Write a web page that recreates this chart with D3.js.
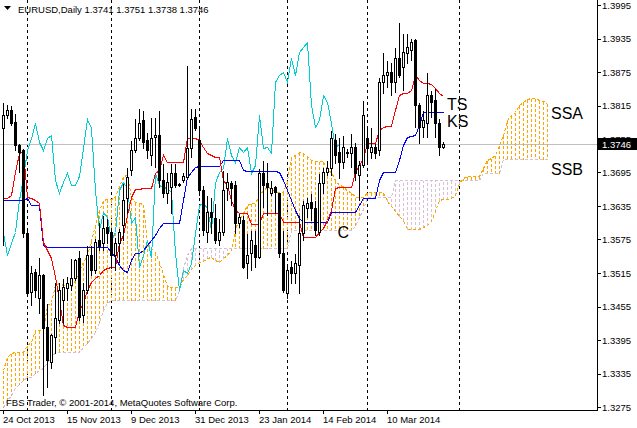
<!DOCTYPE html>
<html><head><meta charset="utf-8">
<script src="https://cdn.jsdelivr.net/npm/d3@7"></script>
<style>
html,body{margin:0;padding:0;background:#fff;}
svg{display:block;}
text{font-family:"Liberation Sans",Arial,sans-serif;}
</style>
</head><body>
<svg id="chart" width="637" height="428"></svg>
<script>
// ---------------- DATA ----------------
const headerText = "EURUSD,Daily 1.3741 1.3751 1.3738 1.3746";
const footerText = "FBS Trader, \u00A9 2001-2014, MetaQuotes Software Corp.";
const dateTickLabels = ["24 Oct 2013","15 Nov 2013","9 Dec 2013","31 Dec 2013","23 Jan 2014","14 Feb 2014","10 Mar 2014"];
const dateTickIndex = [0,16,32,48,64,80,96];
const separatorIndex = [6,27,49,71,91,114];
const priceTicks = [1.3995,1.3935,1.3875,1.3815,1.3755,1.3695,1.3635,1.3575,1.3515,1.3455,1.3395,1.3335,1.3275];
const lastPrice = 1.3746;
const chikouShift = 26;

const open = [
1.3775,1.3798,1.3807,1.3785,1.3744,1.3735,1.3587,1.3481,1.3517,1.3470,
1.3511,1.3418,1.3356,1.3400,1.3431,1.3467,1.3488,1.3494,1.3506,1.3542,
1.3440,1.3485,1.3547,1.3520,1.3574,1.3569,1.3597,1.3588,1.3547,1.3569,
1.3601,1.3649,1.3700,1.3735,1.3757,1.3789,1.3753,1.3726,1.3759,1.3762,
1.3682,1.3658,1.3669,1.3694,1.3675,1.3682,1.3687,1.3739,1.3794,1.3753,
1.3664,1.3588,1.3624,1.3614,1.3574,1.3588,1.3667,1.3676,1.3673,1.3605,
1.3610,1.3533,1.3551,1.3565,1.3544,1.3694,1.3676,1.3658,1.3669,1.3658,
1.3551,1.3479,1.3526,1.3515,1.3529,1.3587,1.3631,1.3642,1.3631,1.3588,
1.3676,1.3696,1.3703,1.3753,1.3732,1.3714,1.3730,1.3730,1.3741,1.3691,
1.3708,1.3757,1.3732,1.3741,1.3735,1.3857,1.3870,1.3875,1.3857,1.3900,
1.3884,1.3909,1.3914,1.3932,1.3816,1.3776,1.3784,1.3834,1.3825,1.3784,
1.3741];
const high = [
1.3821,1.3818,1.3816,1.3802,1.3748,1.3739,1.3592,1.3529,1.3524,1.3544,
1.3515,1.3461,1.3408,1.3499,1.3499,1.3506,1.3510,1.3542,1.3542,1.3556,
1.3499,1.3565,1.3565,1.3578,1.3606,1.3619,1.3614,1.3597,1.3580,1.3596,
1.3676,1.3705,1.3753,1.3793,1.3810,1.3807,1.3768,1.3794,1.3794,1.3807,
1.3712,1.3696,1.3712,1.3712,1.3678,1.3696,1.3888,1.3810,1.3810,1.3775,
1.3673,1.3655,1.3651,1.3640,1.3614,1.3700,1.3696,1.3682,1.3682,1.3622,
1.3619,1.3587,1.3592,1.3592,1.3703,1.3717,1.3714,1.3682,1.3673,1.3660,
1.3592,1.3533,1.3538,1.3551,1.3619,1.3646,1.3651,1.3658,1.3646,1.3694,
1.3705,1.3717,1.3771,1.3766,1.3759,1.3762,1.3739,1.3766,1.3750,1.3717,
1.3825,1.3775,1.3776,1.3748,1.3866,1.3911,1.3897,1.3893,1.3920,1.3965,
1.3945,1.3945,1.3936,1.3936,1.3821,1.3807,1.3875,1.3843,1.3846,1.3793,
1.3751];
const low = [
1.3565,1.3793,1.3780,1.3735,1.3696,1.3580,1.3474,1.3458,1.3472,1.3443,
1.3296,1.3311,1.3345,1.3372,1.3425,1.3425,1.3467,1.3485,1.3503,1.3431,
1.3427,1.3479,1.3511,1.3515,1.3556,1.3556,1.3569,1.3524,1.3520,1.3535,
1.3574,1.3622,1.3691,1.3732,1.3753,1.3739,1.3721,1.3708,1.3705,1.3669,
1.3651,1.3640,1.3622,1.3669,1.3671,1.3678,1.3685,1.3723,1.3771,1.3655,
1.3583,1.3571,1.3587,1.3569,1.3565,1.3583,1.3646,1.3637,1.3587,1.3597,
1.3524,1.3506,1.3520,1.3526,1.3542,1.3633,1.3619,1.3655,1.3622,1.3544,
1.3481,1.3470,1.3497,1.3497,1.3479,1.3574,1.3615,1.3610,1.3583,1.3583,
1.3658,1.3691,1.3691,1.3712,1.3685,1.3703,1.3723,1.3705,1.3682,1.3646,
1.3705,1.3712,1.3721,1.3721,1.3726,1.3837,1.3848,1.3834,1.3839,1.3866,
1.3843,1.3891,1.3897,1.3776,1.3748,1.3759,1.3759,1.3794,1.3759,1.3726,
1.3738];
const close = [
1.3798,1.3807,1.3784,1.3744,1.3732,1.3587,1.3479,1.3515,1.3485,1.3511,
1.3417,1.3359,1.3404,1.3434,1.3485,1.3490,1.3497,1.3506,1.3538,1.3436,
1.3485,1.3547,1.3520,1.3571,1.3563,1.3596,1.3587,1.3547,1.3569,1.3588,
1.3646,1.3687,1.3735,1.3757,1.3784,1.3750,1.3735,1.3757,1.3762,1.3682,
1.3658,1.3678,1.3694,1.3673,1.3673,1.3689,1.3739,1.3791,1.3775,1.3664,
1.3592,1.3624,1.3615,1.3574,1.3588,1.3664,1.3678,1.3667,1.3605,1.3615,
1.3526,1.3547,1.3574,1.3544,1.3694,1.3673,1.3669,1.3667,1.3660,1.3551,
1.3485,1.3520,1.3515,1.3533,1.3587,1.3637,1.3640,1.3631,1.3592,1.3676,
1.3696,1.3703,1.3757,1.3726,1.3714,1.3741,1.3732,1.3741,1.3694,1.3708,
1.3798,1.3739,1.3741,1.3730,1.3857,1.3870,1.3875,1.3857,1.3900,1.3870,
1.3911,1.3920,1.3929,1.3816,1.3776,1.3789,1.3834,1.3821,1.3784,1.3741,
1.3746];
const tenkan = [
1.3649,1.3649,1.3655,1.3696,1.3730,1.3734,1.3651,1.3649,1.3646,1.3640,
1.3571,1.3556,1.3542,1.3508,1.3467,1.3422,1.3418,1.3418,1.3418,1.3449,
1.3461,1.3485,1.3499,1.3506,1.3511,1.3520,1.3524,1.3526,1.3526,1.3569,
1.3583,1.3619,1.3651,1.3666,1.3666,1.3667,1.3667,1.3667,1.3694,1.3700,
1.3726,1.3714,1.3714,1.3714,1.3714,1.3714,1.3757,1.3757,1.3757,1.3753,
1.3741,1.3730,1.3726,1.3723,1.3723,1.3682,1.3673,1.3646,1.3628,1.3622,
1.3622,1.3622,1.3603,1.3603,1.3603,1.3622,1.3622,1.3622,1.3622,1.3622,
1.3606,1.3606,1.3606,1.3606,1.3606,1.3580,1.3580,1.3580,1.3580,1.3588,
1.3596,1.3610,1.3628,1.3667,1.3669,1.3669,1.3669,1.3669,1.3696,1.3708,
1.3721,1.3748,1.3748,1.3748,1.3771,1.3776,1.3778,1.3778,1.3807,1.3834,
1.3837,1.3837,1.3843,1.3870,1.3861,1.3855,1.3855,1.3853,1.3846,1.3837,
1.3832];
const kijun = [
1.3646,1.3646,1.3646,1.3646,1.3646,1.3646,1.3649,1.3637,1.3637,1.3637,
1.3565,1.3562,1.3562,1.3562,1.3562,1.3562,1.3562,1.3562,1.3562,1.3562,
1.3562,1.3562,1.3562,1.3562,1.3562,1.3562,1.3562,1.3553,1.3544,1.3529,
1.3520,1.3517,1.3538,1.3551,1.3551,1.3556,1.3565,1.3574,1.3583,1.3596,
1.3605,1.3605,1.3605,1.3605,1.3605,1.3646,1.3687,1.3696,1.3705,1.3707,
1.3707,1.3707,1.3707,1.3707,1.3707,1.3717,1.3717,1.3717,1.3717,1.3717,
1.3700,1.3698,1.3698,1.3698,1.3698,1.3698,1.3698,1.3698,1.3698,1.3696,
1.3682,1.3664,1.3646,1.3628,1.3614,1.3606,1.3606,1.3606,1.3606,1.3606,
1.3606,1.3606,1.3624,1.3624,1.3624,1.3624,1.3624,1.3624,1.3624,1.3637,
1.3649,1.3649,1.3649,1.3649,1.3682,1.3696,1.3696,1.3696,1.3696,1.3717,
1.3744,1.3759,1.3760,1.3762,1.3780,1.3803,1.3803,1.3803,1.3803,1.3803,
1.3803];
const senkouA = [
1.3341,1.3365,1.3372,1.3374,1.3374,1.3374,1.3386,1.3391,1.3413,1.3413,
1.3413,1.3458,1.3463,1.3494,1.3497,1.3494,1.3490,1.3490,1.3502,1.3520,
1.3535,1.3547,1.3574,1.3601,1.3628,1.3646,1.3647,1.3647,1.3651,1.3671,
1.3688,1.3690,1.3651,1.3643,1.3641,1.3638,1.3568,1.3559,1.3552,1.3535,
1.3514,1.3492,1.3490,1.3490,1.3490,1.3505,1.3511,1.3523,1.3530,1.3534,
1.3536,1.3541,1.3543,1.3539,1.3535,1.3542,1.3547,1.3556,1.3595,1.3610,
1.3622,1.3637,1.3640,1.3640,1.3655,1.3664,1.3669,1.3667,1.3660,1.3660,
1.3660,1.3680,1.3722,1.3726,1.3731,1.3730,1.3724,1.3718,1.3716,1.3715,
1.3715,1.3699,1.3695,1.3682,1.3673,1.3670,1.3661,1.3660,1.3651,1.3651,
1.3651,1.3660,1.3660,1.3660,1.3660,1.3660,1.3644,1.3635,1.3626,1.3617,
1.3610,1.3593,1.3593,1.3593,1.3593,1.3597,1.3601,1.3608,1.3626,1.3646,
1.3647,1.3647,1.3649,1.3655,1.3676,1.3685,1.3689,1.3689,1.3689,1.3689,
1.3703,1.3717,1.3721,1.3726,1.3744,1.3762,1.3789,1.3798,1.3803,1.3816,
1.3821,1.3827,1.3828,1.3828,1.3825,1.3823,1.3819];
const senkouB = [
1.3275,1.3288,1.3296,1.3309,1.3316,1.3323,1.3329,1.3329,1.3336,1.3341,
1.3345,1.3356,1.3365,1.3374,1.3374,1.3374,1.3374,1.3374,1.3374,1.3374,
1.3382,1.3390,1.3399,1.3409,1.3427,1.3449,1.3461,1.3467,1.3467,1.3467,
1.3467,1.3467,1.3467,1.3467,1.3467,1.3467,1.3467,1.3467,1.3467,1.3467,
1.3467,1.3467,1.3467,1.3467,1.3485,1.3524,1.3547,1.3560,1.3560,1.3560,
1.3560,1.3560,1.3560,1.3560,1.3560,1.3560,1.3560,1.3560,1.3560,1.3560,
1.3560,1.3560,1.3560,1.3560,1.3560,1.3560,1.3560,1.3560,1.3560,1.3560,
1.3560,1.3560,1.3592,1.3592,1.3592,1.3592,1.3592,1.3592,1.3592,1.3592,
1.3592,1.3592,1.3592,1.3592,1.3592,1.3592,1.3592,1.3592,1.3599,1.3615,
1.3630,1.3651,1.3651,1.3651,1.3651,1.3651,1.3651,1.3651,1.3682,1.3682,
1.3682,1.3682,1.3682,1.3682,1.3682,1.3682,1.3682,1.3682,1.3682,1.3682,
1.3682,1.3682,1.3682,1.3682,1.3682,1.3682,1.3682,1.3682,1.3682,1.3682,
1.3694,1.3694,1.3694,1.3694,1.3694,1.3719,1.3719,1.3719,1.3719,1.3719,
1.3719,1.3719,1.3719,1.3719,1.3719,1.3719,1.3719];

// ---------------- STYLE ----------------
const C_UP = "#FFA500", C_DN = "#D8BFD8";
const C_TENKAN = "#FF0000", C_KIJUN = "#0000FF", C_CHIKOU = "#00CED1";

const svg = d3.select("#chart");
const plotR = 597, plotB = 410;

const x = d3.scaleLinear().domain([0, 136]).range([3.5, 547.5]);
const y = d3.scaleLinear().domain([1.3275, 1.3995]).range([407, 5]);
const py = v => Math.round(y(v)) + 0.5;

const g = svg.append("g").attr("shape-rendering", "crispEdges");

// period separators
g.selectAll("line.sep").data(separatorIndex).join("line")
  .attr("x1", d => x(d)).attr("x2", d => x(d)).attr("y1", 0).attr("y2", plotB)
  .attr("stroke", "#000").attr("stroke-dasharray", "3,3");

// bid line
g.append("line").attr("x1", 0).attr("x2", plotR).attr("y1", py(lastPrice)).attr("y2", py(lastPrice))
  .attr("stroke", "#C0C0C0");

// cloud hatch
const idxAll = d3.range(senkouA.length);
g.selectAll("line.kumo").data(idxAll).join("line")
  .attr("x1", i => x(i)).attr("x2", i => x(i))
  .attr("y1", i => py(senkouA[i])).attr("y2", i => py(senkouB[i]))
  .attr("stroke", i => senkouA[i] >= senkouB[i] ? C_UP : C_DN)
  .attr("stroke-dasharray", "3,2");

const line = d3.line().x(d => x(d[0])).y(d => py(d[1]));
const toPts = arr => arr.map((v, i) => [i, v]);

g.append("path").attr("d", line(toPts(senkouB))).attr("fill", "none")
  .attr("stroke", C_DN).attr("stroke-dasharray", "3,2");
g.append("path").attr("d", line(toPts(senkouA))).attr("fill", "none")
  .attr("stroke", C_UP).attr("stroke-dasharray", "3,2");

// chikou: close shifted back
const chikouPts = close.slice(chikouShift).map((v, i) => [i, v]);
g.append("path").attr("d", line(chikouPts)).attr("fill", "none").attr("stroke", C_CHIKOU);
g.append("path").attr("d", line(toPts(kijun))).attr("fill", "none").attr("stroke", C_KIJUN);
g.append("path").attr("d", line(toPts(tenkan))).attr("fill", "none").attr("stroke", C_TENKAN);

// candles
const bars = d3.range(close.length);
const cg = g.selectAll("g.c").data(bars).join("g");
cg.append("line").attr("x1", i => x(i)).attr("x2", i => x(i))
  .attr("y1", i => py(high[i])).attr("y2", i => py(low[i])).attr("stroke", "#000");
cg.each(function(i) {
  const top = py(Math.max(open[i], close[i])), bot = py(Math.min(open[i], close[i]));
  const sel = d3.select(this);
  if (bot - top < 1) {
    sel.append("line").attr("x1", x(i) - 1.5).attr("x2", x(i) + 1.5).attr("y1", top).attr("y2", top).attr("stroke", "#000");
  } else {
    sel.append("rect").attr("x", x(i) - 1).attr("width", 2).attr("y", top).attr("height", bot - top)
      .attr("fill", close[i] >= open[i] ? "#fff" : "#000").attr("stroke", "#000");
  }
});

// labels
const lbl = (t, xx, yy) => svg.append("text").attr("x", xx).attr("y", yy).attr("font-size", 16).attr("fill", "#000").text(t);
const lastI = close.length - 1, lastS = senkouA.length - 1;
lbl("TS", x(lastI) + 3.5, y(tenkan[lastI]) + 14);
lbl("KS", x(lastI) + 3.5, y(kijun[lastI]) + 15);
lbl("SSA", x(lastS) + 3.5, y(senkouA[lastS]) + 16);
lbl("SSB", x(lastS) + 3.5, y(senkouB[lastS]) + 16);
lbl("C", x(83.5), y(1.3587) + 5);

// axes
const ax = svg.append("g").attr("shape-rendering", "crispEdges");
ax.append("line").attr("x1", plotR + 0.5).attr("x2", plotR + 0.5).attr("y1", 0).attr("y2", plotB + 1).attr("stroke", "#000");
ax.append("line").attr("x1", 0).attr("x2", plotR + 1).attr("y1", plotB + 0.5).attr("y2", plotB + 0.5).attr("stroke", "#000");
ax.selectAll("line.yt").data(priceTicks).join("line")
  .attr("x1", plotR).attr("x2", plotR + 4).attr("y1", d => py(d)).attr("y2", d => py(d)).attr("stroke", "#000");
// tick labels; the one hidden under the last-price box keeps only its upper part visible
svg.selectAll("text.yl").data(priceTicks).join("text")
  .attr("x", 602).attr("y", d => y(d) + 3.5).attr("font-size", 9.5).attr("fill", "#000")
  .text(d => d.toFixed(4));
ax.selectAll("line.xt").data(dateTickIndex).join("line")
  .attr("x1", d => x(d)).attr("x2", d => x(d)).attr("y1", plotB).attr("y2", plotB + 4).attr("stroke", "#000");
svg.selectAll("text.xl").data(dateTickIndex).join("text")
  .attr("x", d => x(d) - 0.5).attr("y", 423).attr("font-size", 9.5).attr("fill", "#000")
  .text((d, k) => dateTickLabels[k]);

// last price box
const by = Math.round(y(lastPrice));
svg.append("rect").attr("x", 598).attr("y", by - 6).attr("width", 39).attr("height", 12).attr("fill", "#000");
svg.append("text").attr("x", 602).attr("y", by + 4).attr("font-size", 9.5).attr("fill", "#fff").text(lastPrice.toFixed(4));

// header & footer
svg.append("path").attr("d", "M4,6 L11,6 L7.5,10 Z").attr("fill", "#000");
svg.append("text").attr("x", 18).attr("y", 13).attr("font-size", 9.5).attr("fill", "#000").text(headerText);
svg.append("text").attr("x", 6).attr("y", 406).attr("font-size", 9.5).attr("fill", "#000").text(footerText);
</script>
</body></html>
